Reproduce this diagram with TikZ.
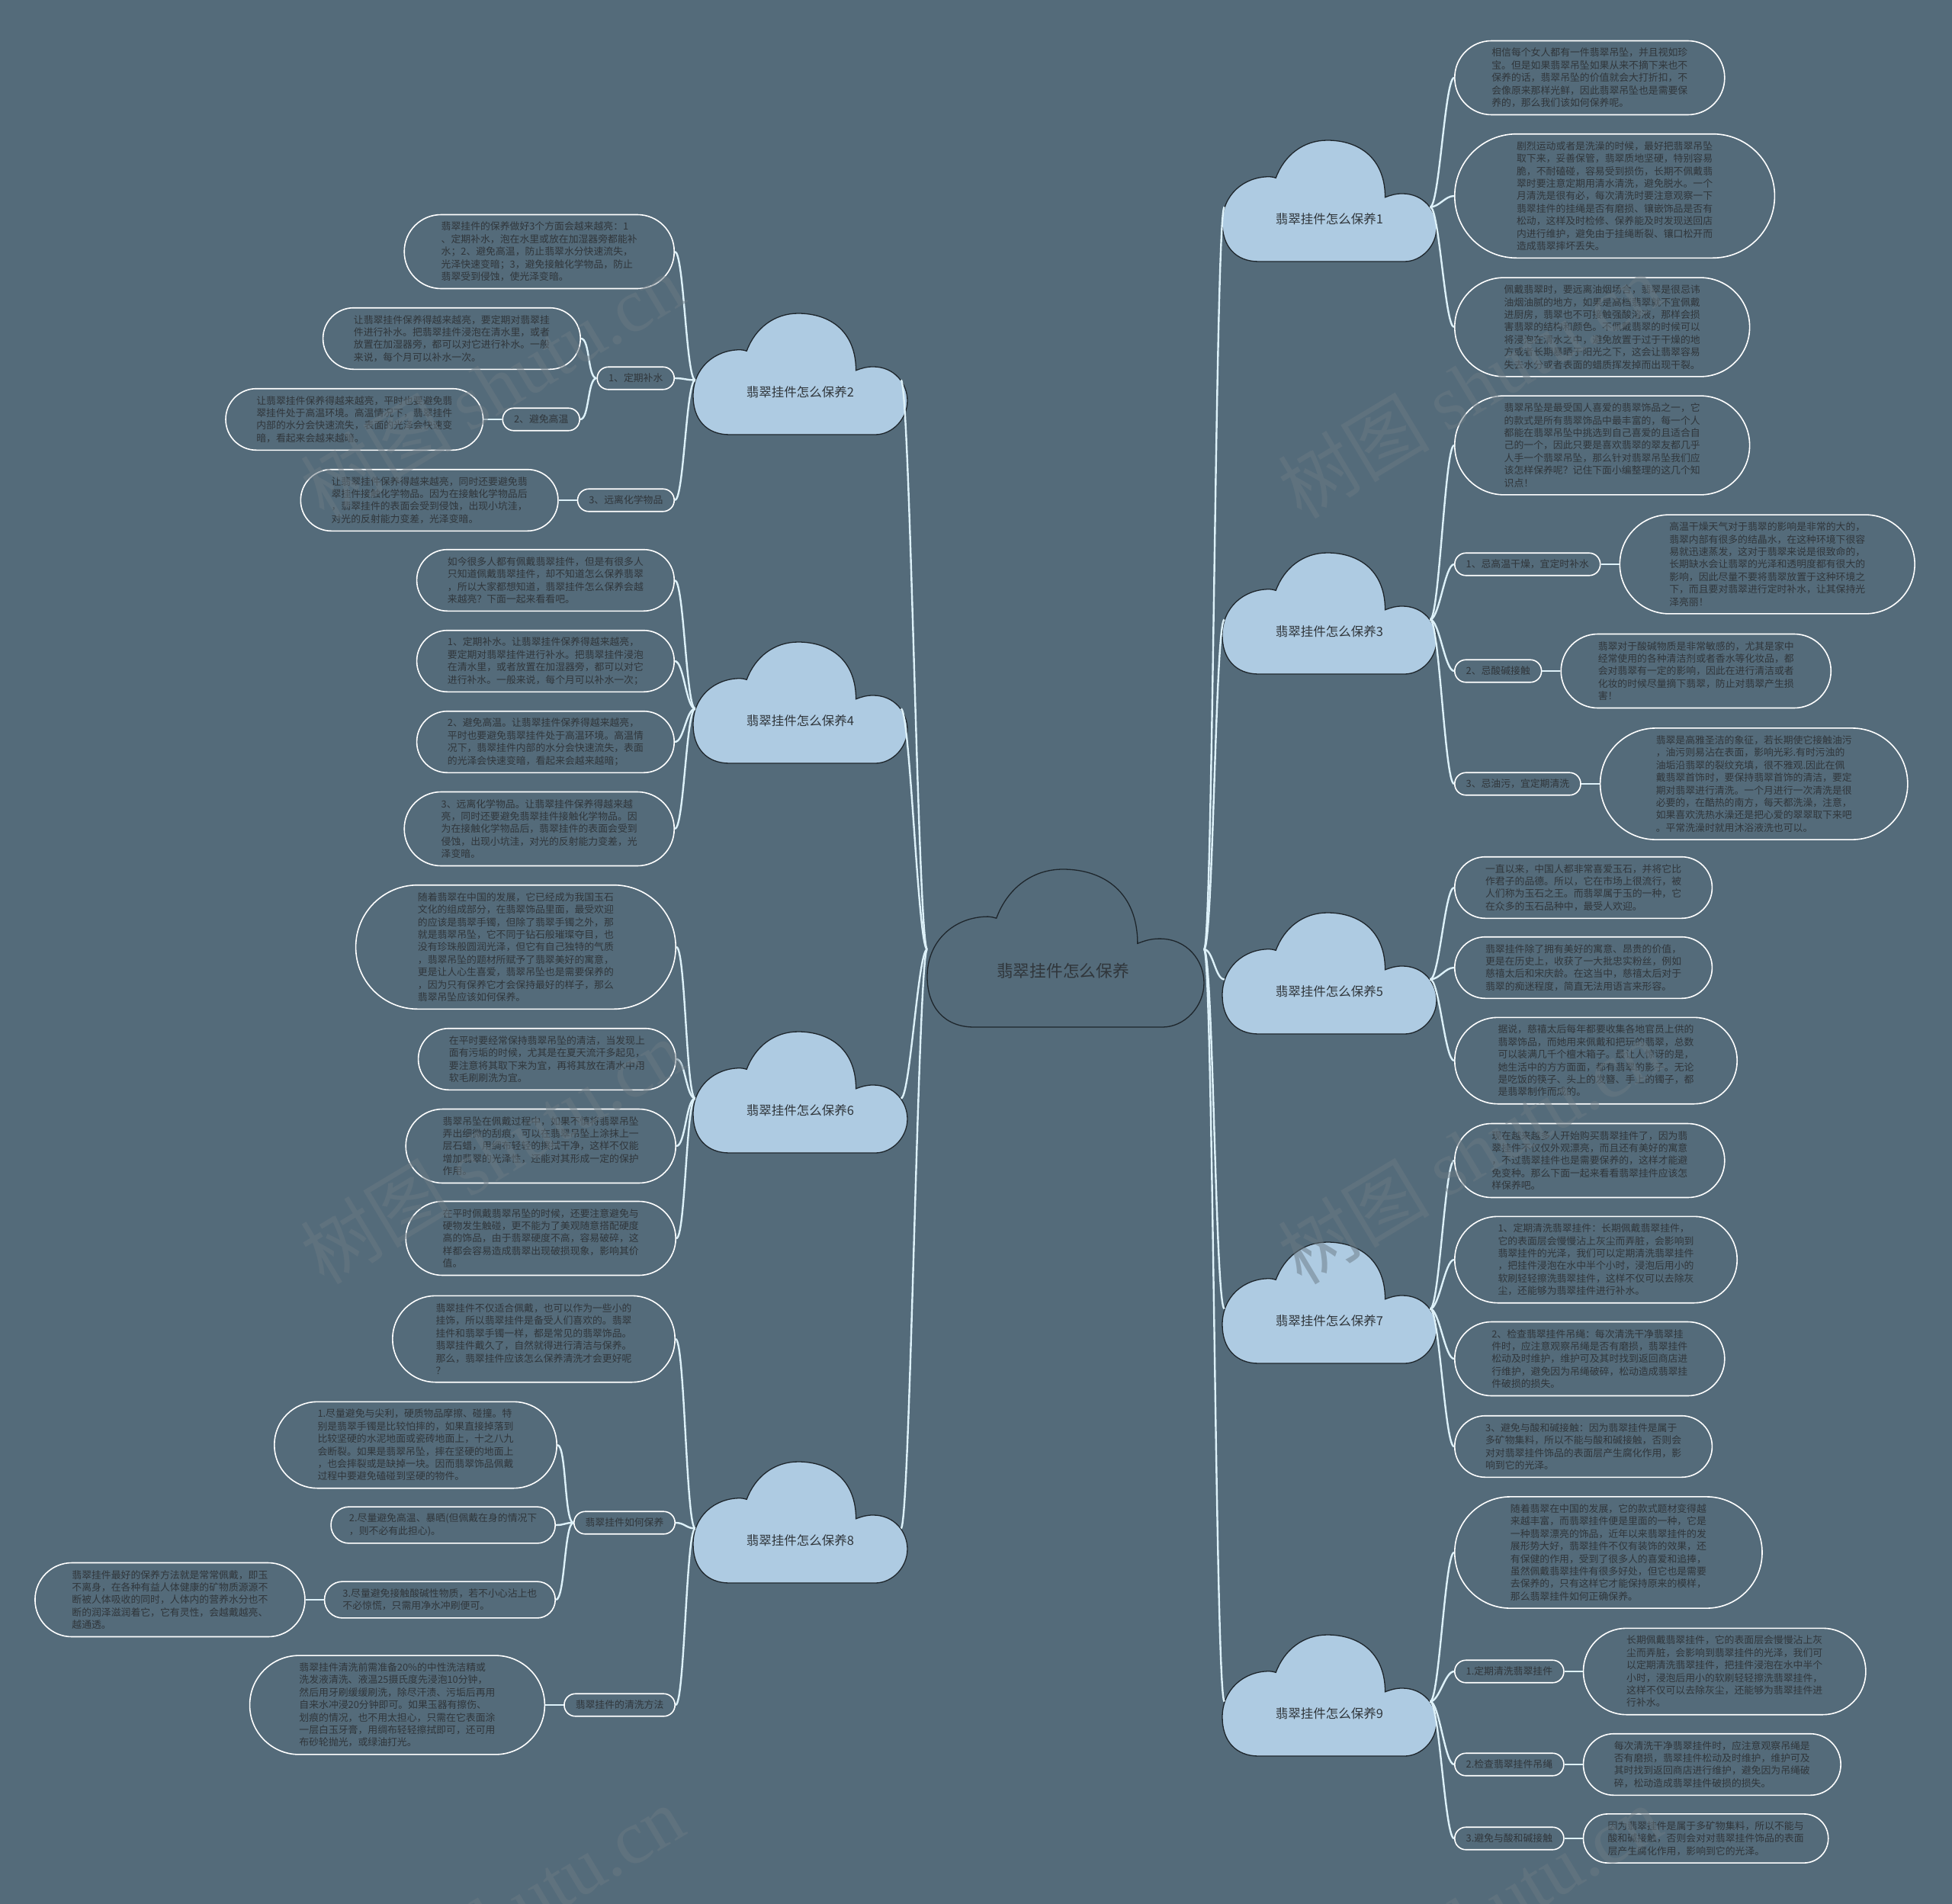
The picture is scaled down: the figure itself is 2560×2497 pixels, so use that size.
\documentclass[tikz,border=0pt]{standalone}
\usepackage{fontspec}
\newfontfamily\cjk{Noto Sans CJK SC}
\newfontfamily\wmserif{Liberation Serif}
\definecolor{bg}{HTML}{546B7A}
\definecolor{txt}{HTML}{30363B}
\definecolor{cloudfill}{HTML}{AECBE2}
\definecolor{cloudline}{HTML}{1E262C}
\definecolor{linkc}{HTML}{DDF1F9}
\definecolor{wmc}{HTML}{6A7983}
\tikzset{
  leaf/.style={rectangle, draw=white, line width=1.6pt, fill=bg, text=txt,
    font=\cjk\fontsize{12.85}{16.4}\selectfont, align=left, inner ysep=6pt},
  p2/.style={minimum height=47.8pt, rounded corners=23.7pt, inner xsep=23.9pt},
  p3/.style={minimum height=64.2pt, rounded corners=31.9pt, inner xsep=32.1pt},
  p4/.style={minimum height=80.6pt, rounded corners=40.1pt, inner xsep=40.3pt},
  p5/.style={minimum height=97pt, rounded corners=48.3pt, inner xsep=48.5pt},
  p6/.style={minimum height=113.4pt, rounded corners=56.5pt, inner xsep=56.7pt},
  p7/.style={minimum height=129.8pt, rounded corners=64.7pt, inner xsep=64.9pt},
  p8/.style={minimum height=146.2pt, rounded corners=72.9pt, inner xsep=73.1pt},
  p9/.style={minimum height=162.6pt, rounded corners=81.1pt, inner xsep=81.3pt},
  lab/.style={leaf, minimum height=29.5pt, rounded corners=14.6pt, inner xsep=14.8pt},
  conn/.style={draw=linkc, line width=2.4pt},
  cloudtext/.style={text=txt, font=\cjk\fontsize{16.5}{20}\selectfont, inner sep=0pt},
  maintext/.style={text=txt, font=\cjk\fontsize{21.7}{26}\selectfont, inner sep=0pt},
  cloudbody/.style={fill=cloudfill, draw=cloudline, line width=1.3pt},
  centerbody/.style={fill=bg, draw=cloudline, line width=1.3pt},
  wm/.style={text=wmc, opacity=0.5, font=\cjk\fontsize{100}{110}\selectfont, rotate=31}
}
\newcommand\cloudshape[5]{%
  \begin{scope}[shift={(#1,#2)}, xscale=#3, yscale=#4]
  \path[#5] (0.17,1) .. controls (0.06,1) and (0,0.87) .. (0,0.68)
    .. controls (0,0.45) and (0.1,0.3) .. (0.22,0.3)
    .. controls (0.23,0.3) and (0.24,0.305) .. (0.25,0.31)
    .. controls (0.29,0.12) and (0.38,0) .. (0.49,0)
    .. controls (0.64,0) and (0.76,0.15) .. (0.76,0.47)
    .. controls (0.79,0.45) and (0.81,0.44) .. (0.84,0.44)
    .. controls (0.94,0.44) and (1,0.58) .. (1,0.72)
    .. controls (1,0.87) and (0.93,1) .. (0.85,1) -- cycle;
  \end{scope}}
\newcommand\cloudnode[7]{%
  \cloudshape{#2}{#3}{#4}{#5}{#6}
  \node[cloudtext] (#1) at ({#2+0.5*#4},{#3+0.65*#5}) {#7};
  \coordinate (#1-l) at ({#2+0.01*#4},{#3+0.55*#5});
  \coordinate (#1-r) at ({#2+0.97*#4},{#3+0.55*#5});}
\newcommand\rconn[2]{\draw[conn] (#1) .. controls +(12,0) and +(-12,0) .. (#2);}
\newcommand\lconn[2]{\draw[conn] (#1) .. controls +(-12,0) and +(12,0) .. (#2);}
\begin{document}
\begin{tikzpicture}[x=1pt,y=-1pt]
\fill[bg] (0,0) rectangle (2560,2497);
\useasboundingbox (0,0) rectangle (2560,2497);

% central topic
\cloudshape{1216}{1140}{363}{207}{centerbody}
\node[maintext] (center) at (1394,1273) {翡翠挂件怎么保养};
\coordinate (center-l) at (1216,1245);
\coordinate (center-r) at (1579,1245);

% main branches
\cloudnode{c1}{1603}{184}{281}{159}{cloudbody}{翡翠挂件怎么保养1}
\cloudnode{c3}{1603}{725}{281}{159}{cloudbody}{翡翠挂件怎么保养3}
\cloudnode{c5}{1603}{1197}{281}{159}{cloudbody}{翡翠挂件怎么保养5}
\cloudnode{c7}{1603}{1629}{281}{159}{cloudbody}{翡翠挂件怎么保养7}
\cloudnode{c9}{1603}{2144}{281}{159}{cloudbody}{翡翠挂件怎么保养9}
\cloudnode{c2}{909}{411}{281}{159}{cloudbody}{翡翠挂件怎么保养2}
\cloudnode{c4}{909}{842}{281}{159}{cloudbody}{翡翠挂件怎么保养4}
\cloudnode{c6}{909}{1353}{281}{159}{cloudbody}{翡翠挂件怎么保养6}
\cloudnode{c8}{909}{1917}{281}{159}{cloudbody}{翡翠挂件怎么保养8}

% ---------- branch 1 ----------
\node[leaf, p5, anchor=west] (n1a) at (1907,102) {相信每个女人都有一件翡翠吊坠，并且视如珍\\宝。但是如果翡翠吊坠如果从来不摘下来也不\\保养的话，翡翠吊坠的价值就会大打折扣，不\\会像原来那样光鲜，因此翡翠吊坠也是需要保\\养的，那么我们该如何保养呢。};
\node[leaf, p9, anchor=west] (n1b) at (1907,257) {剧烈运动或者是洗澡的时候，最好把翡翠吊坠\\取下来，妥善保管，翡翠质地坚硬，特别容易\\脆，不耐磕碰，容易受到损伤，长期不佩戴翡\\翠时要注意定期用清水清洗，避免脱水。一个\\月清洗是很有必，每次清洗时要注意观察一下\\翡翠挂件的挂绳是否有磨损、镶嵌饰品是否有\\松动，这样及时检修、保养能及时发现送回店\\内进行维护，避免由于挂绳断裂、镶口松开而\\造成翡翠摔坏丢失。};
\node[leaf, p7, anchor=west] (n1c) at (1907,429) {佩戴翡翠时，要远离油烟场合，翡翠是很忌讳\\油烟油腻的地方，如果是高档翡翠就不宜佩戴\\进厨房，翡翠也不可接触强酸溶液，那样会损\\害翡翠的结构和颜色。不佩戴翡翠的时候可以\\将浸泡在清水之中，避免放置于过于干燥的地\\方或者长期暴晒于阳光之下，这会让翡翠容易\\失去水分或者表面的蜡质挥发掉而出现干裂。};

% ---------- branch 3 ----------
\node[leaf, p7, anchor=west] (n3a) at (1907,584) {翡翠吊坠是最受国人喜爱的翡翠饰品之一，它\\的款式是所有翡翠饰品中最丰富的，每一个人\\都能在翡翠吊坠中挑选到自己喜爱的且适合自\\己的一个，因此只要是喜欢翡翠的翠友都几乎\\人手一个翡翠吊坠，那么针对翡翠吊坠我们应\\该怎样保养呢？记住下面小编整理的这几个知\\识点！};
\node[lab, anchor=west] (n3L1) at (1907,740) {1、忌高温干燥，宜定时补水};
\node[leaf, p7, anchor=west] (n3b) at ([xshift=24pt]n3L1.east) {高温干燥天气对于翡翠的影响是非常的大的，\\翡翠内部有很多的结晶水，在这种环境下很容\\易就迅速蒸发，这对于翡翠来说是很致命的，\\长期缺水会让翡翠的光泽和透明度都有很大的\\影响，因此尽量不要将翡翠放置于这种环境之\\下，而且要对翡翠进行定时补水，让其保持光\\泽亮丽！};
\node[lab, anchor=west] (n3L2) at (1907,880) {2、忌酸碱接触};
\node[leaf, p5, anchor=west] (n3c) at ([xshift=24pt]n3L2.east) {翡翠对于酸碱物质是非常敏感的，尤其是家中\\经常使用的各种清洁剂或者香水等化妆品，都\\会对翡翠有一定的影响，因此在进行清洁或者\\化妆的时候尽量摘下翡翠，防止对翡翠产生损\\害！};
\node[lab, anchor=west] (n3L3) at (1907,1028) {3、忌油污，宜定期清洗};
\node[leaf, p8, anchor=west] (n3d) at ([xshift=24pt]n3L3.east) {翡翠是高雅圣洁的象征，若长期使它接触油污\\，油污则易沾在表面，影响光彩.有时污浊的\\油垢沿翡翠的裂纹充填，很不雅观.因此在佩\\戴翡翠首饰时，要保持翡翠首饰的清洁，要定\\期对翡翠进行清洗。一个月进行一次清洗是很\\必要的，在酷热的南方，每天都洗澡，注意，\\如果喜欢洗热水澡还是把心爱的翠翠取下来吧\\。平常洗澡时就用沐浴液洗也可以。};

% ---------- branch 5 ----------
\node[leaf, p4, anchor=west] (n5a) at (1907,1164) {一直以来，中国人都非常喜爱玉石，并将它比\\作君子的品德。所以，它在市场上很流行，被\\人们称为玉石之王。而翡翠属于玉的一种，它\\在众多的玉石品种中，最受人欢迎。};
\node[leaf, p4, anchor=west] (n5b) at (1907,1269) {翡翠挂件除了拥有美好的寓意、昂贵的价值，\\更是在历史上，收获了一大批忠实粉丝，例如\\慈禧太后和宋庆龄。在这当中，慈禧太后对于\\翡翠的痴迷程度，简直无法用语言来形容。};
\node[leaf, p6, anchor=west] (n5c) at (1907,1391) {据说，慈禧太后每年都要收集各地官员上供的\\翡翠饰品，而她用来佩戴和把玩的翡翠，总数\\可以装满几千个檀木箱子。最让人惊讶的是，\\她生活中的方方面面，都有翡翠的影子。无论\\是吃饭的筷子、头上的发簪、手上的镯子，都\\是翡翠制作而成的。};

% ---------- branch 7 ----------
\node[leaf, p5, anchor=west] (n7a) at (1907,1522) {现在越来越多人开始购买翡翠挂件了，因为翡\\翠挂件不仅仅外观漂亮，而且还有美好的寓意\\，不过翡翠挂件也是需要保养的，这样才能避\\免变种。那么下面一起来看看翡翠挂件应该怎\\样保养吧。};
\node[leaf, p6, anchor=west] (n7b) at (1907,1652) {1、定期清洗翡翠挂件：长期佩戴翡翠挂件，\\它的表面层会慢慢沾上灰尘而弄脏，会影响到\\翡翠挂件的光泽，我们可以定期清洗翡翠挂件\\，把挂件浸泡在水中半个小时，浸泡后用小的\\软刷轻轻擦洗翡翠挂件，这样不仅可以去除灰\\尘，还能够为翡翠挂件进行补水。};
\node[leaf, p5, anchor=west] (n7c) at (1907,1782) {2、检查翡翠挂件吊绳：每次清洗干净翡翠挂\\件时，应注意观察吊绳是否有磨损，翡翠挂件\\松动及时维护，维护可及其时找到返回商店进\\行维护，避免因为吊绳破碎，松动造成翡翠挂\\件破损的损失。};
\node[leaf, p4, anchor=west] (n7d) at (1907,1897) {3、避免与酸和碱接触：因为翡翠挂件是属于\\多矿物集料，所以不能与酸和碱接触，否则会\\对对翡翠挂件饰品的表面层产生腐化作用，影\\响到它的光泽。};

% ---------- branch 9 ----------
\node[leaf, p8, anchor=west] (n9a) at (1907,2036) {随着翡翠在中国的发展，它的款式题材变得越\\来越丰富，而翡翠挂件便是里面的一种，它是\\一种翡翠漂亮的饰品，近年以来翡翠挂件的发\\展形势大好，翡翠挂件不仅有装饰的效果，还\\有保健的作用，受到了很多人的喜爱和追捧，\\虽然佩戴翡翠挂件有很多好处，但它也是需要\\去保养的，只有这样它才能保持原来的模样，\\那么翡翠挂件如何正确保养。};
\node[lab, anchor=west] (n9L1) at (1907,2192) {1.定期清洗翡翠挂件};
\node[leaf, p6, anchor=west] (n9b) at ([xshift=24pt]n9L1.east) {长期佩戴翡翠挂件，它的表面层会慢慢沾上灰\\尘而弄脏，会影响到翡翠挂件的光泽，我们可\\以定期清洗翡翠挂件，把挂件浸泡在水中半个\\小时，浸泡后用小的软刷轻轻擦洗翡翠挂件，\\这样不仅可以去除灰尘，还能够为翡翠挂件进\\行补水。};
\node[lab, anchor=west] (n9L2) at (1907,2314) {2.检查翡翠挂件吊绳};
\node[leaf, p4, anchor=west] (n9c) at ([xshift=24pt]n9L2.east) {每次清洗干净翡翠挂件时，应注意观察吊绳是\\否有磨损，翡翠挂件松动及时维护，维护可及\\其时找到返回商店进行维护，避免因为吊绳破\\碎，松动造成翡翠挂件破损的损失。};
\node[lab, anchor=west] (n9L3) at (1907,2411) {3.避免与酸和碱接触};
\node[leaf, p3, anchor=west] (n9d) at ([xshift=24pt]n9L3.east) {因为翡翠挂件是属于多矿物集料，所以不能与\\酸和碱接触，否则会对对翡翠挂件饰品的表面\\层产生腐化作用，影响到它的光泽。};

% ---------- branch 2 ----------
\node[leaf, p5, anchor=east] (n2a) at (885,330) {翡翠挂件的保养做好3个方面会越来越亮：1\\、定期补水，泡在水里或放在加湿器旁都能补\\水；2、避免高温，防止翡翠水分快速流失，\\光泽快速变暗；3，避免接触化学物品，防止\\翡翠受到侵蚀，使光泽变暗。};
\node[lab, anchor=east] (n2L1) at (885,496) {1、定期补水};
\node[leaf, p4, anchor=east] (n2b) at (762,444) {让翡翠挂件保养得越来越亮，要定期对翡翠挂\\件进行补水。把翡翠挂件浸泡在清水里，或者\\放置在加湿器旁，都可以对它进行补水。一般\\来说，每个月可以补水一次。};
\node[lab, anchor=east] (n2L2) at (761,550) {2、避免高温};
\node[leaf, p4, anchor=east] (n2c) at ([xshift=-24pt]n2L2.west) {让翡翠挂件保养得越来越亮，平时也要避免翡\\翠挂件处于高温环境。高温情况下，翡翠挂件\\内部的水分会快速流失，表面的光泽会快速变\\暗，看起来会越来越暗。};
\node[lab, anchor=east] (n2L3) at (885,656) {3、远离化学物品};
\node[leaf, p4, anchor=east] (n2d) at ([xshift=-24pt]n2L3.west) {让翡翠挂件保养得越来越亮，同时还要避免翡\\翠挂件接触化学物品。因为在接触化学物品后\\，翡翠挂件的表面会受到侵蚀，出现小坑洼，\\对光的反射能力变差，光泽变暗。};

% ---------- branch 4 ----------
\node[leaf, p4, anchor=east] (n4a) at (885,761) {如今很多人都有佩戴翡翠挂件，但是有很多人\\只知道佩戴翡翠挂件，却不知道怎么保养翡翠\\，所以大家都想知道，翡翠挂件怎么保养会越\\来越亮？下面一起来看看吧。};
\node[leaf, p4, anchor=east] (n4b) at (885,867) {1、定期补水。让翡翠挂件保养得越来越亮，\\要定期对翡翠挂件进行补水。把翡翠挂件浸泡\\在清水里，或者放置在加湿器旁，都可以对它\\进行补水。一般来说，每个月可以补水一次；};
\node[leaf, p4, anchor=east] (n4c) at (885,973) {2、避免高温。让翡翠挂件保养得越来越亮，\\平时也要避免翡翠挂件处于高温环境。高温情\\况下，翡翠挂件内部的水分会快速流失，表面\\的光泽会快速变暗，看起来会越来越暗；};
\node[leaf, p5, anchor=east] (n4d) at (885,1087) {3、远离化学物品。让翡翠挂件保养得越来越\\亮，同时还要避免翡翠挂件接触化学物品。因\\为在接触化学物品后，翡翠挂件的表面会受到\\侵蚀，出现小坑洼，对光的反射能力变差，光\\泽变暗。};

% ---------- branch 6 ----------
\node[leaf, p9, anchor=east] (n6a) at (887,1242) {随着翡翠在中国的发展，它已经成为我国玉石\\文化的组成部分，在翡翠饰品里面，最受欢迎\\的应该是翡翠手镯，但除了翡翠手镯之外，那\\就是翡翠吊坠，它不同于钻石般璀璨夺目，也\\没有珍珠般圆润光泽，但它有自己独特的气质\\，翡翠吊坠的题材所赋予了翡翠美好的寓意，\\更是让人心生喜爱，翡翠吊坠也是需要保养的\\，因为只有保养它才会保持最好的样子，那么\\翡翠吊坠应该如何保养。};
\node[leaf, p4, anchor=east] (n6b) at (887,1389) {在平时要经常保持翡翠吊坠的清洁，当发现上\\面有污垢的时候，尤其是在夏天流汗多起见，\\要注意将其取下来为宜，再将其放在清水中用\\软毛刷刷洗为宜。};
\node[leaf, p5, anchor=east] (n6c) at (887,1503) {翡翠吊坠在佩戴过程中，如果不慎将翡翠吊坠\\弄出细微的刮痕，可以在翡翠吊坠上涂抹上一\\层石蜡，用绸布轻轻的擦拭干净，这样不仅能\\增加翡翠的光泽性，还能对其形成一定的保护\\作用。};
\node[leaf, p5, anchor=east] (n6d) at (887,1624) {在平时佩戴翡翠吊坠的时候，还要注意避免与\\硬物发生触碰，更不能为了美观随意搭配硬度\\高的饰品，由于翡翠硬度不高，容易破碎，这\\样都会容易造成翡翠出现破损现象，影响其价\\值。};

% ---------- branch 8 ----------
\node[leaf, p6, anchor=east] (n8a) at (886,1756) {翡翠挂件不仅适合佩戴，也可以作为一些小的\\挂饰，所以翡翠挂件是备受人们喜欢的。翡翠\\挂件和翡翠手镯一样，都是常见的翡翠饰品。\\翡翠挂件戴久了，自然就得进行清洁与保养。\\那么，翡翠挂件应该怎么保养清洗才会更好呢\\？};
\node[lab, anchor=east] (n8L1) at (886,1997) {翡翠挂件如何保养};
\node[leaf, p6, anchor=east] (n8b) at (731,1895) {1.尽量避免与尖利，硬质物品摩擦、碰撞。特\\别是翡翠手镯是比较怕摔的，如果直接掉落到\\比较坚硬的水泥地面或瓷砖地面上，十之八九\\会断裂。如果是翡翠吊坠，摔在坚硬的地面上\\，也会摔裂或是缺掉一块。因而翡翠饰品佩戴\\过程中要避免磕碰到坚硬的物件。};
\node[leaf, p2, anchor=east] (n8c) at (729,2000) {2.尽量避免高温、暴晒(但佩戴在身的情况下\\，则不必有此担心)。};
\node[leaf, p2, anchor=east] (n8d) at (729,2098) {3.尽量避免接触酸碱性物质，若不小心沾上也\\不必惊慌，只需用净水冲刷便可。};
\node[leaf, p5, anchor=east] (n8e) at ([xshift=-24pt]n8d.west) {翡翠挂件最好的保养方法就是常常佩戴，即玉\\不离身，在各种有益人体健康的矿物质源源不\\断被人体吸收的同时，人体内的营养水分也不\\断的润泽滋润着它，它有灵性，会越戴越亮、\\越通透。};
\node[lab, anchor=east] (n8L2) at (886,2236) {翡翠挂件的清洗方法};
\node[leaf, p7, anchor=east] (n8f) at ([xshift=-24pt]n8L2.west) {翡翠挂件清洗前需准备20\%的中性洗洁精或\\洗发液清洗、液温25摄氏度先浸泡10分钟，\\然后用牙刷缓缓刷洗，除尽汗渍、污垢后再用\\自来水冲浸20分钟即可。如果玉器有擦伤、\\划痕的情况，也不用太担心，只需在它表面涂\\一层白玉牙膏，用绸布轻轻擦拭即可，还可用\\布砂轮抛光，或绿油打光。};

% ---------- connectors ----------
\rconn{center-r}{c1-l}\rconn{center-r}{c3-l}\rconn{center-r}{c5-l}\rconn{center-r}{c7-l}\rconn{center-r}{c9-l}
\lconn{center-l}{c2-r}\lconn{center-l}{c4-r}\lconn{center-l}{c6-r}\lconn{center-l}{c8-r}

\rconn{c1-r}{n1a.west}\rconn{c1-r}{n1b.west}\rconn{c1-r}{n1c.west}
\rconn{c3-r}{n3a.west}\rconn{c3-r}{n3L1.west}\rconn{c3-r}{n3L2.west}\rconn{c3-r}{n3L3.west}
\rconn{n3L1.east}{n3b.west}\rconn{n3L2.east}{n3c.west}\rconn{n3L3.east}{n3d.west}
\rconn{c5-r}{n5a.west}\rconn{c5-r}{n5b.west}\rconn{c5-r}{n5c.west}
\rconn{c7-r}{n7a.west}\rconn{c7-r}{n7b.west}\rconn{c7-r}{n7c.west}\rconn{c7-r}{n7d.west}
\rconn{c9-r}{n9a.west}\rconn{c9-r}{n9L1.west}\rconn{c9-r}{n9L2.west}\rconn{c9-r}{n9L3.west}
\rconn{n9L1.east}{n9b.west}\rconn{n9L2.east}{n9c.west}\rconn{n9L3.east}{n9d.west}

\lconn{c2-l}{n2a.east}\lconn{c2-l}{n2L1.east}\lconn{c2-l}{n2L3.east}
\lconn{n2L1.west}{n2b.east}\lconn{n2L1.west}{n2L2.east}
\lconn{n2L2.west}{n2c.east}\lconn{n2L3.west}{n2d.east}
\lconn{c4-l}{n4a.east}\lconn{c4-l}{n4b.east}\lconn{c4-l}{n4c.east}\lconn{c4-l}{n4d.east}
\lconn{c6-l}{n6a.east}\lconn{c6-l}{n6b.east}\lconn{c6-l}{n6c.east}\lconn{c6-l}{n6d.east}
\lconn{c8-l}{n8a.east}\lconn{c8-l}{n8L1.east}\lconn{c8-l}{n8L2.east}
\lconn{n8L1.west}{n8b.east}\lconn{n8L1.west}{n8c.east}\lconn{n8L1.west}{n8d.east}
\lconn{n8d.west}{n8e.east}\lconn{n8L2.west}{n8f.east}

% ---------- watermarks ----------
\node[wm] (wm1) at (645,506) {树图 {\wmserif shutu.cn}};
\node[wm] (wm2) at (645,1510) {树图 {\wmserif shutu.cn}};
\node[wm] (wm3) at (645,2515) {树图 {\wmserif shutu.cn}};
\node[wm] (wm4) at (1927,506) {树图 {\wmserif shutu.cn}};
\node[wm] (wm5) at (1927,1510) {树图 {\wmserif shutu.cn}};
\node[wm] (wm6) at (1927,2515) {树图 {\wmserif shutu.cn}};
\end{tikzpicture}
\end{document}
